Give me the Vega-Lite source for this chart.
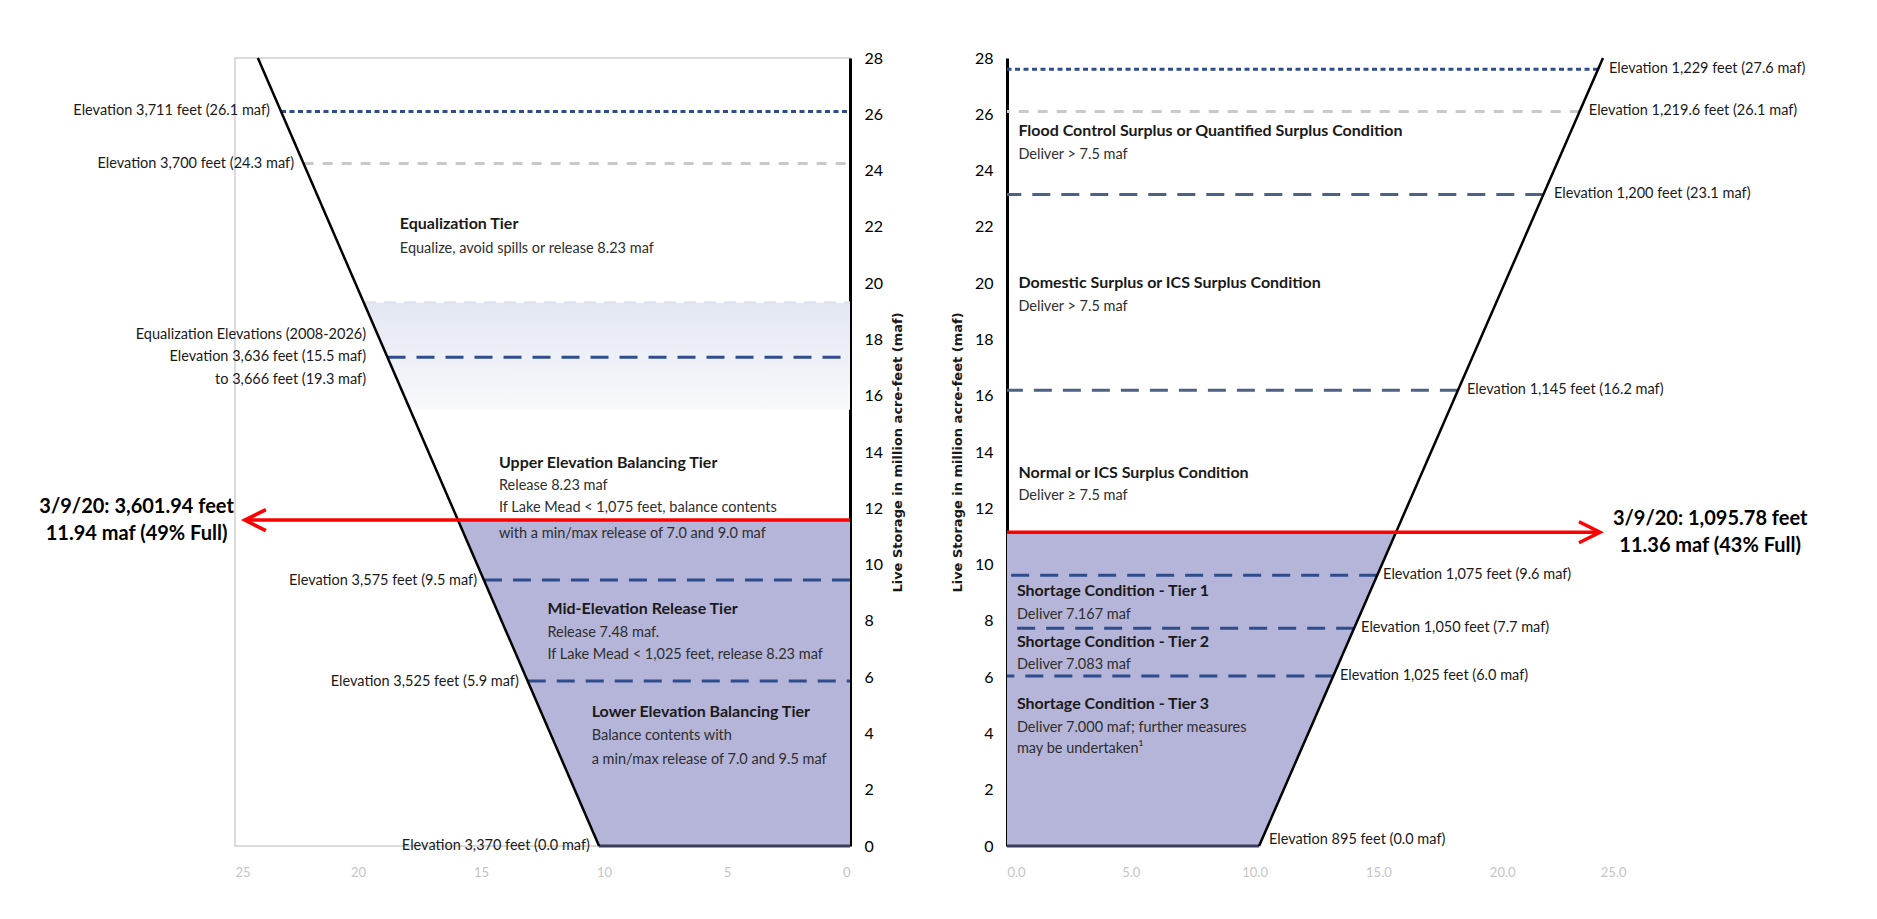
{
  "$schema": "https://vega.github.io/schema/vega-lite/v6.json",
  "background": "#ffffff",
  "padding": {"left": 38, "top": 49, "right": 10, "bottom": 10},
  "config": {
    "font": "Lato",
    "axis": {"grid": false, "ticks": false},
    "text": {"font": "Lato"}
  },
  "datasets": {
    "pw_wall": [{"x": 10.2, "y": 0}, {"x": 24.07, "y": 28}],
    "pw_fill": [{"x": 10.2, "x2": 0, "y": 0}, {"x": 15.94, "x2": 0, "y": 11.58}],
    "pw_band": [{"x": 17.88, "x2": 0, "y": 15.5}, {"x": 19.76, "x2": 0, "y": 19.3}],
    "pw_levels": [
      {"y": 26.1, "x": 23.13, "x2": 0, "kind": "short"},
      {"y": 24.25, "x": 22.21, "x2": 0, "kind": "gray"},
      {"y": 19.3, "x": 19.76, "x2": 0, "kind": "faint"},
      {"y": 17.37, "x": 18.8, "x2": 0, "kind": "long"},
      {"y": 9.45, "x": 14.88, "x2": 0, "kind": "long"},
      {"y": 5.86, "x": 13.1, "x2": 0, "kind": "long"},
      {"y": 0, "x": 10.2, "x2": 0, "kind": "base"}
    ],
    "pw_now": [{"y": 11.58, "x": 24.6, "x2": 0}],
    "pw_text": [
      {"x": 23.58, "y": 26.1, "label": "Elevation 3,711 feet (26.1 maf)", "kind": "elev"},
      {"x": 22.6, "y": 24.25, "label": "Elevation 3,700 feet (24.3 maf)", "kind": "elev"},
      {"x": 19.67, "y": 18.15, "label": "Equalization Elevations (2008-2026)", "kind": "elev"},
      {"x": 19.67, "y": 17.37, "label": "Elevation 3,636 feet (15.5 maf)", "kind": "elev"},
      {"x": 19.67, "y": 16.55, "label": "to 3,666 feet (19.3 maf)", "kind": "elev"},
      {"x": 15.16, "y": 9.43, "label": "Elevation 3,575 feet (9.5 maf)", "kind": "elev"},
      {"x": 13.46, "y": 5.84, "label": "Elevation 3,525 feet (5.9 maf)", "kind": "elev"},
      {"x": 10.57, "y": 0, "label": "Elevation 3,370 feet (0.0 maf)", "kind": "elev"},
      {"x": 18.3, "y": 22.1, "label": "Equalization Tier", "kind": "title"},
      {"x": 18.3, "y": 21.2, "label": "Equalize, avoid spills or release 8.23 maf", "kind": "desc"},
      {"x": 14.27, "y": 13.6, "label": "Upper Elevation Balancing Tier", "kind": "title"},
      {"x": 14.27, "y": 12.78, "label": "Release  8.23 maf", "kind": "desc"},
      {"x": 14.27, "y": 12.0, "label": "If Lake Mead < 1,075 feet, balance contents", "kind": "desc"},
      {"x": 14.27, "y": 11.1, "label": "with a min/max release of 7.0 and 9.0 maf", "kind": "desc"},
      {"x": 12.3, "y": 8.42, "label": "Mid-Elevation Release Tier", "kind": "title"},
      {"x": 12.3, "y": 7.56, "label": "Release  7.48 maf.", "kind": "desc"},
      {"x": 12.3, "y": 6.78, "label": "If Lake Mead < 1,025 feet, release 8.23 maf", "kind": "desc"},
      {"x": 10.5, "y": 4.76, "label": "Lower Elevation Balancing Tier", "kind": "title"},
      {"x": 10.5, "y": 3.9, "label": "Balance contents with", "kind": "desc"},
      {"x": 10.5, "y": 3.05, "label": "a min/max release of 7.0 and 9.5 maf", "kind": "desc"},
      {"x": 29.0, "y": 12.04, "label": "3/9/20: 3,601.94 feet", "kind": "now"},
      {"x": 29.0, "y": 11.08, "label": "11.94 maf (49% Full)", "kind": "now"}
    ],
    "md_wall": [{"x": 10.18, "y": 0}, {"x": 24.07, "y": 28}],
    "md_fill": [{"x": 10.18, "x2": 0, "y": 0}, {"x": 15.71, "x2": 0, "y": 11.15}],
    "md_levels": [
      {"y": 27.6, "x": 23.87, "x2": 0, "kind": "short"},
      {"y": 26.1, "x": 23.13, "x2": 0, "kind": "gray"},
      {"y": 23.15, "x": 21.66, "x2": 0, "kind": "slate"},
      {"y": 16.19, "x": 18.21, "x2": 0, "kind": "slate"},
      {"y": 9.62, "x": 14.95, "x2": 0, "kind": "long"},
      {"y": 7.74, "x": 14.02, "x2": 0, "kind": "long"},
      {"y": 6.04, "x": 13.18, "x2": 0, "kind": "long"},
      {"y": 0, "x": 10.18, "x2": 0, "kind": "base"}
    ],
    "md_now": [{"y": 11.15, "x": 23.95, "x2": 0}],
    "md_text": [
      {"x": 24.31, "y": 27.6, "label": "Elevation 1,229 feet (27.6 maf)", "kind": "elev"},
      {"x": 23.5, "y": 26.1, "label": "Elevation 1,219.6 feet (26.1 maf)", "kind": "elev"},
      {"x": 22.09, "y": 23.15, "label": "Elevation 1,200 feet (23.1 maf)", "kind": "elev"},
      {"x": 18.58, "y": 16.19, "label": "Elevation 1,145 feet (16.2 maf)", "kind": "elev"},
      {"x": 15.19, "y": 9.62, "label": "Elevation 1,075 feet (9.6 maf)", "kind": "elev"},
      {"x": 14.3, "y": 7.74, "label": "Elevation 1,050 feet (7.7 maf)", "kind": "elev"},
      {"x": 13.45, "y": 6.04, "label": "Elevation 1,025 feet (6.0 maf)", "kind": "elev"},
      {"x": 10.58, "y": 0.2, "label": "Elevation 895 feet (0.0 maf)", "kind": "elev"},
      {"x": 0.46, "y": 25.4, "label": "Flood Control Surplus or Quantified Surplus Condition", "kind": "title"},
      {"x": 0.46, "y": 24.54, "label": "Deliver > 7.5 maf", "kind": "desc"},
      {"x": 0.46, "y": 20.0, "label": "Domestic Surplus or ICS Surplus Condition", "kind": "title"},
      {"x": 0.46, "y": 19.14, "label": "Deliver > 7.5 maf", "kind": "desc"},
      {"x": 0.46, "y": 13.25, "label": "Normal or ICS Surplus Condition", "kind": "title"},
      {"x": 0.46, "y": 12.43, "label": "Deliver ≥ 7.5 maf", "kind": "desc"},
      {"x": 0.4, "y": 9.06, "label": "Shortage Condition - Tier 1", "kind": "title"},
      {"x": 0.4, "y": 8.2, "label": "Deliver 7.167 maf", "kind": "desc"},
      {"x": 0.4, "y": 7.24, "label": "Shortage Condition - Tier 2", "kind": "title"},
      {"x": 0.4, "y": 6.43, "label": "Deliver 7.083 maf", "kind": "desc"},
      {"x": 0.4, "y": 5.04, "label": "Shortage Condition - Tier 3", "kind": "title"},
      {"x": 0.4, "y": 4.19, "label": "Deliver 7.000 maf; further measures", "kind": "desc"},
      {"x": 0.4, "y": 3.44, "label": "may be undertaken¹", "kind": "desc"},
      {"x": 28.4, "y": 11.61, "label": "3/9/20: 1,095.78 feet", "kind": "now"},
      {"x": 28.4, "y": 10.65, "label": "11.36 maf (43% Full)", "kind": "now"}
    ]
  },
  "hconcat": [
    {
      "width": 615,
      "height": 788,
      "view": {"stroke": "#d0d0d0", "strokeWidth": 1.5},
      "encoding": {
        "x": {"field": "x", "type": "quantitative",
              "scale": {"domain": [0, 25], "reverse": true, "nice": false, "zero": false},
              "axis": {"orient": "bottom", "values": [0, 5, 10, 15, 20, 25], "format": "d", "title": null,
                       "domain": false, "labelColor": "#c4c4c4", "labelFontSize": 13, "labelPadding": 20, "labelFont": "Lato"}},
        "y": {"field": "y", "type": "quantitative",
              "scale": {"domain": [0, 28], "nice": false, "zero": false},
              "axis": {"orient": "right", "values": [0, 2, 4, 6, 8, 10, 12, 14, 16, 18, 20, 22, 24, 26, 28],
                       "domain": true, "domainColor": "#000000", "domainWidth": 3,
                       "labelColor": "#000000", "labelFontSize": 16, "labelFont": "Lato", "labelPadding": 14,
                       "title": "Live Storage in million acre-feet (maf)", "titleFont": "DejaVu Sans",
                       "titleFontSize": 13, "titleFontWeight": "bold", "titleColor": "#1a1a1a",
                       "titleAngle": 270, "titleBaseline": "top", "titlePadding": 9}}
      },
      "layer": [
        {
          "data": {"name": "pw_band"},
          "mark": {"type": "area", "orient": "horizontal",
                   "fill": {"gradient": "linear", "x1": 0, "y1": 0, "x2": 0, "y2": 1,
                            "stops": [{"offset": 0, "color": "#e3e7f2"}, {"offset": 1, "color": "#f8f9fc"}]}},
          "encoding": {"x2": {"field": "x2"}}
        },
        {
          "data": {"name": "pw_fill"},
          "mark": {"type": "area", "orient": "horizontal", "color": "#b5b5d9", "opacity": 1},
          "encoding": {"x2": {"field": "x2"}}
        },
        {
          "data": {"name": "pw_levels"},
          "mark": {"type": "rule", "strokeWidth": 3},
          "encoding": {
            "x2": {"field": "x2"},
            "color": {"field": "kind", "type": "nominal", "legend": null,
                      "scale": {"domain": ["short", "gray", "faint", "long", "slate", "base"],
                                "range": ["#2f4c8c", "#c9c9c9", "#dde2ee", "#2f4c8c", "#4b6285", "#3b3b5c"]}},
            "strokeDash": {"field": "kind", "type": "nominal", "legend": null,
                           "scale": {"domain": ["short", "gray", "faint", "long", "slate", "base"],
                                     "range": [[5, 3.5], [10, 9], [12, 8], [18, 11], [18, 11], [1, 0]]}}
          }
        },
        {
          "data": {"name": "pw_wall"},
          "mark": {"type": "line", "color": "#000000", "strokeWidth": 2.5}
        },
        {
          "data": {"name": "pw_now"},
          "mark": {"type": "rule", "color": "#ff0000", "strokeWidth": 3.5},
          "encoding": {"x2": {"field": "x2"}}
        },
        {
          "data": {"name": "pw_now"},
          "mark": {"type": "point", "shape": "M2,-1L0,0L2,1", "filled": false, "color": "#ff0000",
                   "strokeWidth": 3.5, "size": 441, "opacity": 1}
        },
        {
          "data": {"name": "pw_text"},
          "transform": [{"filter": "datum.kind == 'elev'"}],
          "mark": {"type": "text", "align": "right", "baseline": "middle", "fontSize": 14.5, "color": "#1a1a1a"},
          "encoding": {"text": {"field": "label"}}
        },
        {
          "data": {"name": "pw_text"},
          "transform": [{"filter": "datum.kind == 'desc'"}],
          "mark": {"type": "text", "align": "left", "baseline": "middle", "fontSize": 14.5, "color": "#2e2e2e"},
          "encoding": {"text": {"field": "label"}}
        },
        {
          "data": {"name": "pw_text"},
          "transform": [{"filter": "datum.kind == 'title'"}],
          "mark": {"type": "text", "align": "left", "baseline": "middle", "fontSize": 16, "fontWeight": "bold", "color": "#1a1a1a"},
          "encoding": {"text": {"field": "label"}}
        },
        {
          "data": {"name": "pw_text"},
          "transform": [{"filter": "datum.kind == 'now'"}],
          "mark": {"type": "text", "align": "center", "baseline": "middle", "fontSize": 20, "fontWeight": "bold", "color": "#000000"},
          "encoding": {"text": {"field": "label"}}
        }
      ]
    },
    {
      "width": 619,
      "height": 788,
      "view": {"stroke": null},
      "encoding": {
        "x": {"field": "x", "type": "quantitative",
              "scale": {"domain": [0, 25], "nice": false, "zero": false},
              "axis": {"orient": "bottom", "values": [0, 5, 10, 15, 20, 25], "format": ".1f", "title": null,
                       "domain": false, "labelColor": "#c4c4c4", "labelFontSize": 13, "labelPadding": 20, "labelFont": "Lato"}},
        "y": {"field": "y", "type": "quantitative",
              "scale": {"domain": [0, 28], "nice": false, "zero": false},
              "axis": {"orient": "left", "values": [0, 2, 4, 6, 8, 10, 12, 14, 16, 18, 20, 22, 24, 26, 28],
                       "domain": true, "domainColor": "#000000", "domainWidth": 3,
                       "labelColor": "#000000", "labelFontSize": 16, "labelFont": "Lato", "labelPadding": 14,
                       "title": "Live Storage in million acre-feet (maf)", "titleFont": "DejaVu Sans",
                       "titleFontSize": 13, "titleFontWeight": "bold", "titleColor": "#1a1a1a",
                       "titleAngle": 270, "titlePadding": 10}}
      },
      "layer": [
        {
          "data": {"name": "md_fill"},
          "mark": {"type": "area", "orient": "horizontal", "color": "#b5b5d9", "opacity": 1},
          "encoding": {"x2": {"field": "x2"}}
        },
        {
          "data": {"name": "md_levels"},
          "mark": {"type": "rule", "strokeWidth": 3},
          "encoding": {
            "x2": {"field": "x2"},
            "color": {"field": "kind", "type": "nominal", "legend": null,
                      "scale": {"domain": ["short", "gray", "faint", "long", "slate", "base"],
                                "range": ["#2f4c8c", "#c9c9c9", "#dde2ee", "#2f4c8c", "#4b6285", "#3b3b5c"]}},
            "strokeDash": {"field": "kind", "type": "nominal", "legend": null,
                           "scale": {"domain": ["short", "gray", "faint", "long", "slate", "base"],
                                     "range": [[5, 3.5], [10, 9], [12, 8], [18, 11], [18, 11], [1, 0]]}}
          }
        },
        {
          "data": {"name": "md_wall"},
          "mark": {"type": "line", "color": "#000000", "strokeWidth": 2.5}
        },
        {
          "data": {"name": "md_now"},
          "mark": {"type": "rule", "color": "#ff0000", "strokeWidth": 3.5},
          "encoding": {"x2": {"field": "x2"}}
        },
        {
          "data": {"name": "md_now"},
          "mark": {"type": "point", "shape": "M-2,-1L0,0L-2,1", "filled": false, "color": "#ff0000",
                   "strokeWidth": 3.5, "size": 441, "opacity": 1}
        },
        {
          "data": {"name": "md_text"},
          "transform": [{"filter": "datum.kind == 'elev'"}],
          "mark": {"type": "text", "align": "left", "baseline": "middle", "fontSize": 14.5, "color": "#1a1a1a"},
          "encoding": {"text": {"field": "label"}}
        },
        {
          "data": {"name": "md_text"},
          "transform": [{"filter": "datum.kind == 'desc'"}],
          "mark": {"type": "text", "align": "left", "baseline": "middle", "fontSize": 14.5, "color": "#2e2e2e"},
          "encoding": {"text": {"field": "label"}}
        },
        {
          "data": {"name": "md_text"},
          "transform": [{"filter": "datum.kind == 'title'"}],
          "mark": {"type": "text", "align": "left", "baseline": "middle", "fontSize": 16, "fontWeight": "bold", "color": "#1a1a1a"},
          "encoding": {"text": {"field": "label"}}
        },
        {
          "data": {"name": "md_text"},
          "transform": [{"filter": "datum.kind == 'now'"}],
          "mark": {"type": "text", "align": "center", "baseline": "middle", "fontSize": 20, "fontWeight": "bold", "color": "#000000"},
          "encoding": {"text": {"field": "label"}}
        }
      ]
    }
  ],
  "spacing": 157,
  "bounds": "flush"
}
